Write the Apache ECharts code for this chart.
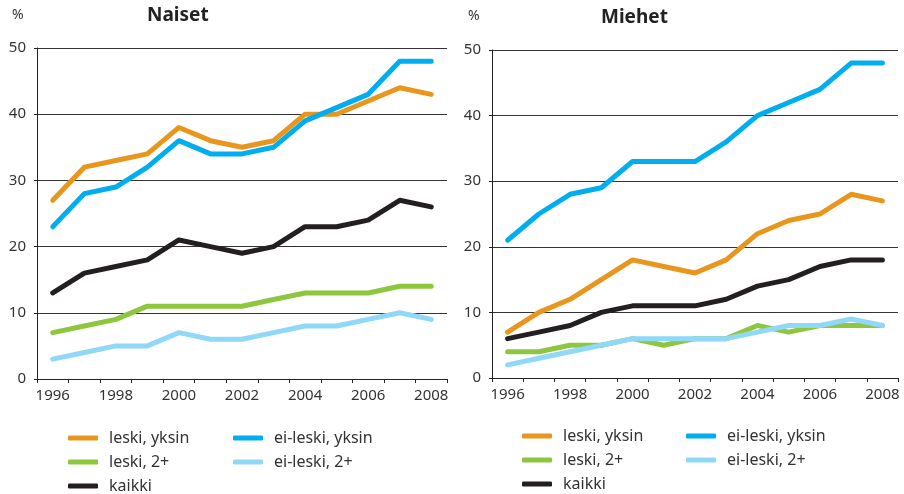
<!DOCTYPE html>
<html>
<head>
<meta charset="utf-8">
<script src="https://cdn.jsdelivr.net/npm/echarts@6/dist/echarts.min.js"></script>
<style>
    html, body { margin: 0; padding: 0; background: #fff; }
    #chart { width: 904px; height: 494px; }
</style>
</head>
<body>
<div id="chart"></div>
<script>
// years on the x axis
const years = ['1996', '1997', '1998', '1999', '2000', '2001', '2002', '2003', '2004', '2005', '2006', '2007', '2008'];
const yTicks = [0, 10, 20, 30, 40, 50];

// Naiset (women)
const naisetLeskiYksin = [27, 32, 33, 34, 38, 36, 35, 36, 40, 40, 42, 44, 43];
const naisetEiLeskiYksin = [23, 28, 29, 32, 36, 34, 34, 35, 39, 41, 43, 48, 48];
const naisetLeski2 = [7, 8, 9, 11, 11, 11, 11, 12, 13, 13, 13, 14, 14];
const naisetEiLeski2 = [3, 4, 5, 5, 7, 6, 6, 7, 8, 8, 9, 10, 9];
const naisetKaikki = [13, 16, 17, 18, 21, 20, 19, 20, 23, 23, 24, 27, 26];

// Miehet (men)
const miehetLeskiYksin = [7, 10, 12, 15, 18, 17, 16, 18, 22, 24, 25, 28, 27];
const miehetEiLeskiYksin = [21, 25, 28, 29, 33, 33, 33, 36, 40, 42, 44, 48, 48];
const miehetLeski2 = [4, 4, 5, 5, 6, 5, 6, 6, 8, 7, 8, 8, 8];
const miehetEiLeski2 = [2, 3, 4, 5, 6, 6, 6, 6, 7, 8, 8, 9, 8];
const miehetKaikki = [6, 7, 8, 10, 11, 11, 11, 12, 14, 15, 17, 18, 18];

const names = ['leski, yksin', 'ei-leski, yksin', 'leski, 2+', 'ei-leski, 2+', 'kaikki'];
const colors = {
    'leski, yksin': '#e8961e',
    'ei-leski, yksin': '#00aeef',
    'leski, 2+': '#8dc63f',
    'ei-leski, 2+': '#8fd8f8',
    'kaikki': '#231f20'
};

const textColor = '#333';
const fontFamily = '"Noto Sans", sans-serif';

function makeSeries(idx, data) {
    return names.map(name => ({
        name: name,
        type: 'line',
        xAxisIndex: idx,
        yAxisIndex: idx,
        data: data[name],
        symbol: 'none',
        color: colors[name],
        lineStyle: { width: 5, color: colors[name], cap: 'round', join: 'round' }
    }));
}

function makeXAxis(idx) {
    return {
        type: 'category',
        gridIndex: idx,
        data: years,
        boundaryGap: true,
        axisLine: { lineStyle: { color: '#222', width: 1 } },
        axisTick: { show: true, interval: 0, length: 4, lineStyle: { color: '#222' } },
        axisLabel: { interval: 1, color: textColor, fontSize: 15, fontFamily: fontFamily, margin: 9 },
        splitLine: { show: false }
    };
}

function makeYAxis(idx) {
    return {
        type: 'value',
        gridIndex: idx,
        min: yTicks[0],
        max: yTicks[yTicks.length - 1],
        interval: 10,
        axisLine: { show: true, lineStyle: { color: '#222', width: 1 } },
        axisTick: { show: true, length: 3, lineStyle: { color: '#222' } },
        axisLabel: { color: textColor, fontSize: 15, fontFamily: fontFamily, margin: 11, padding: [0, 0, 6, 0] },
        splitLine: { show: true, lineStyle: { color: '#333', width: 1 } }
    };
}

function makeLegend(left, top, data) {
    return {
        orient: 'vertical',
        left: left,
        top: top,
        height: 80,
        padding: 0,
        data: data,
        icon: 'roundRect',
        itemWidth: 30,
        itemHeight: 5,
        itemGap: 8,
        selectedMode: false,
        textStyle: { color: textColor, fontSize: 16, fontFamily: fontFamily, lineHeight: 16, padding: [0, 0, 0, 6] }
    };
}

let chart = echarts.init(document.getElementById('chart'));

let option = {
    animation: false,
    backgroundColor: '#fff',
    grid: [
        { left: 37, right: 457, top: 48, bottom: 115 },
        { left: 492, right: 6, top: 50, bottom: 116 }
    ],
    xAxis: [makeXAxis(0), makeXAxis(1)],
    yAxis: [makeYAxis(0), makeYAxis(1)],
    legend: [
        makeLegend(68, 430, ['leski, yksin', 'leski, 2+', 'kaikki']),
        makeLegend(233, 430, ['ei-leski, yksin', 'ei-leski, 2+']),
        makeLegend(522, 428, ['leski, yksin', 'leski, 2+', 'kaikki']),
        makeLegend(686, 428, ['ei-leski, yksin', 'ei-leski, 2+'])
    ],
    graphic: [
        { type: 'text', left: 147, top: 6, style: { text: 'Naiset', fill: '#222', font: 'bold 19px "Noto Sans", sans-serif' } },
        { type: 'text', left: 601, top: 8, style: { text: 'Miehet', fill: '#222', font: 'bold 19px "Noto Sans", sans-serif' } },
        { type: 'text', left: 12, top: 8, style: { text: '%', fill: textColor, font: '14px "Noto Sans", sans-serif' } },
        { type: 'text', left: 468, top: 9, style: { text: '%', fill: textColor, font: '14px "Noto Sans", sans-serif' } }
    ],
    series: makeSeries(0, {
        'leski, yksin': naisetLeskiYksin,
        'ei-leski, yksin': naisetEiLeskiYksin,
        'leski, 2+': naisetLeski2,
        'ei-leski, 2+': naisetEiLeski2,
        'kaikki': naisetKaikki
    }).concat(makeSeries(1, {
        'leski, yksin': miehetLeskiYksin,
        'ei-leski, yksin': miehetEiLeskiYksin,
        'leski, 2+': miehetLeski2,
        'ei-leski, 2+': miehetEiLeski2,
        'kaikki': miehetKaikki
    }))
};

chart.setOption(option);
</script>
</body>
</html>
